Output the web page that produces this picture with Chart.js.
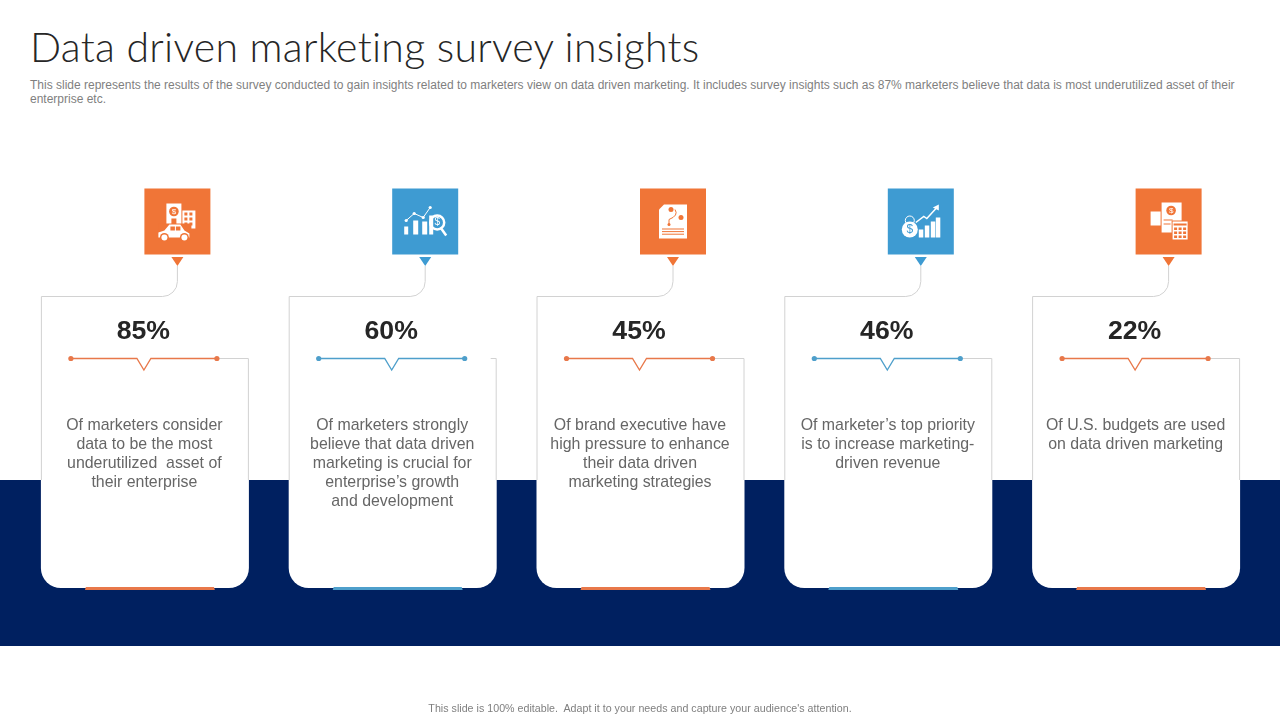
<!DOCTYPE html>
<html>
<head>
<meta charset="utf-8">
<title>Data driven marketing survey insights</title>
<script src="https://cdn.jsdelivr.net/npm/chart.js@4"></script>
<style>
  html, body { margin: 0; padding: 0; width: 1280px; height: 720px; background: #fff; overflow: hidden; font-family: "Liberation Sans", Arial, sans-serif; }
  #grafica { position: absolute; left: 0; top: 0; }
  h1 { position: absolute; left: 30px; top: 23px; margin: 0; font: 300 41px/48px Lato, sans-serif; letter-spacing: 0.25px; color: #262626; white-space: nowrap; }
  #sub { position: absolute; left: 30px; top: 78px; margin: 0; font-size: 12px; line-height: 14px; color: #7f7f7f; white-space: nowrap; }
  #pie { position: absolute; left: 0; width: 1280px; top: 702px; margin: 0; text-align: center; font-size: 10.67px; line-height: 13px; letter-spacing: 0.02px; color: #7f7f7f; }
</style>
</head>
<body>
<h1>Data driven marketing survey insights</h1>
<p id="sub">This slide represents the results of the survey conducted to gain insights related to marketers view on data driven marketing. It includes survey insights such as 87% marketers believe that data is most underutilized asset of their<br>enterprise etc.</p>
<canvas id="grafica" width="1280" height="720"></canvas>
<p id="pie">This slide is 100% editable.&nbsp; Adapt it to your needs and capture your audience's attention.</p>
<script>
const descripciones = [
  ['Of marketers consider', 'data to be the most', 'underutilized  asset of', 'their enterprise'],
  ['Of marketers strongly', 'believe that data driven', 'marketing is crucial for', 'enterprise\u2019s growth', 'and development'],
  ['Of brand executive have', 'high pressure to enhance', 'their data driven', 'marketing strategies'],
  ['Of marketer\u2019s top priority', 'is to increase marketing-', 'driven revenue'],
  ['Of U.S. budgets are used', 'on data driven marketing']
];
const porcentajes = [85, 60, 45, 46, 22];
const acentos = ['#F07537', '#3E9BD2', '#F07537', '#3E9BD2', '#F07537'];
const lineasAcento = ['#E8784A', '#4E9FCB', '#E8784A', '#4E9FCB', '#E8784A'];

const NAVY = '#002060';
const GRIS = '#d2d2d2';

function signoDolar(c, x, y, px, col) {
  c.fillStyle = col;
  c.font = px + 'px "Liberation Sans"';
  c.textAlign = 'center';
  c.textBaseline = 'middle';
  c.fillText('$', x, y);
}

// Iconos: dibujados alrededor del centro del cuadro
function iconoEdificio(c, x, y, col) {
  c.fillStyle = '#fff';
  c.fillRect(x - 11, y - 18, 15, 24);
  c.fillRect(x + 5, y - 11, 13, 18);
  c.fillStyle = col;
  c.beginPath(); c.arc(x - 3.5, y - 10, 4.8, 0, Math.PI * 2); c.fill();
  signoDolar(c, x - 3.5, y - 9.7, 8, '#fff');
  c.fillStyle = col;
  c.fillRect(x - 6, y - 3, 5, 8);
  for (let f = 0; f < 3; f++) {
    for (let k = 0; k < 2; k++) c.fillRect(x + 7 + k * 5, y - 9 + f * 5, 3, 3);
  }
  c.fillStyle = col;
  c.fillRect(x - 19, y + 2, 33, 16);
  c.fillStyle = '#fff';
  c.beginPath();
  c.moveTo(x - 19, y + 16);
  c.lineTo(x - 19, y + 11);
  c.lineTo(x - 13, y + 9);
  c.lineTo(x - 8, y + 3);
  c.lineTo(x + 3, y + 3);
  c.lineTo(x + 7, y + 9);
  c.lineTo(x + 12, y + 12);
  c.lineTo(x + 12, y + 16);
  c.closePath();
  c.fill();
  c.fillStyle = col;
  c.fillRect(x - 7, y + 5, 4.5, 4);
  c.fillRect(x - 1.5, y + 5, 4.5, 4);
  [-13, 7].forEach(d => {
    c.fillStyle = col;
    c.beginPath(); c.arc(x + d, y + 16, 4.5, 0, Math.PI * 2); c.fill();
    c.fillStyle = '#fff';
    c.beginPath(); c.arc(x + d, y + 16, 3, 0, Math.PI * 2); c.fill();
  });
}

function iconoLupa(c, x, y, col) {
  c.fillStyle = '#fff';
  c.strokeStyle = '#fff';
  c.fillRect(x - 21, y + 5, 4, 8);
  c.fillRect(x - 12, y - 1, 5, 14);
  c.fillRect(x - 3, y, 5, 13);
  c.lineWidth = 1;
  c.beginPath();
  c.moveTo(x - 19, y - 1);
  c.lineTo(x - 11, y - 8);
  c.lineTo(x - 2, y - 4);
  c.lineTo(x + 5, y - 14);
  c.stroke();
  [[-19, -1], [-11, -8], [-2, -4], [5, -14]].forEach(p => {
    c.beginPath(); c.arc(x + p[0], y + p[1], 1.6, 0, Math.PI * 2); c.fill();
  });
  c.fillRect(x + 4, y - 6, 4, 19);
  c.lineWidth = 2.5;
  c.beginPath(); c.arc(x + 12, y + 1, 7, 0, Math.PI * 2); c.stroke();
  c.beginPath(); c.moveTo(x + 16, y + 7); c.lineTo(x + 21, y + 14); c.stroke();
  signoDolar(c, x + 12, y + 1, 10, '#fff');
}

function iconoDocumento(c, x, y, col) {
  c.fillStyle = '#fff';
  c.beginPath();
  c.moveTo(x - 9, y - 17);
  c.lineTo(x + 14, y - 17);
  c.lineTo(x + 14, y + 17);
  c.lineTo(x - 14, y + 17);
  c.lineTo(x - 14, y - 12);
  c.closePath();
  c.fill();
  c.fillStyle = col;
  c.strokeStyle = col;
  c.lineWidth = 1;
  c.beginPath(); c.arc(x - 2, y - 12, 2.5, 0, Math.PI * 2); c.fill();
  c.beginPath(); c.arc(x + 8, y - 4, 2.5, 0, Math.PI * 2); c.fill();
  c.beginPath(); c.arc(x - 4, y + 3, 1.5, 0, Math.PI * 2); c.fill();
  c.beginPath(); c.moveTo(x + 2, y - 12); c.quadraticCurveTo(x + 6, y - 6, x - 4, y - 2); c.lineTo(x - 4, y + 3); c.stroke();
  for (let f = 0; f < 3; f++) {
    c.fillRect(x - 11, y + 7 + f * 2.6, 22, 1);
  }
}

function iconoMoneda(c, x, y, col) {
  c.fillStyle = '#fff';
  c.strokeStyle = '#fff';
  [[-2, 8], [4, 12], [10, 16], [15, 20]].forEach(b => {
    c.fillRect(x + b[0], y + 16 - b[1], 4.5, b[1]);
  });
  c.lineWidth = 1.5;
  c.beginPath();
  c.moveTo(x - 5, y + 1);
  c.lineTo(x + 3, y - 5);
  c.lineTo(x + 6, y - 3);
  c.lineTo(x + 17, y - 15);
  c.stroke();
  c.beginPath();
  c.moveTo(x + 18, y - 17);
  c.lineTo(x + 18, y - 11);
  c.lineTo(x + 12, y - 14);
  c.closePath();
  c.fill();
  c.lineWidth = 1;
  c.beginPath(); c.arc(x - 11, y - 1, 4.5, 0, Math.PI * 2); c.stroke();
  c.beginPath(); c.arc(x - 11, y + 8, 8, 0, Math.PI * 2); c.fill();
  signoDolar(c, x - 11, y + 8.5, 12, col);
}

function iconoCalculadora(c, x, y, col) {
  c.fillStyle = '#fff';
  c.fillRect(x - 18, y - 10, 10, 14);
  c.fillRect(x - 7, y - 19, 20, 30);
  c.fillStyle = col;
  c.beginPath(); c.arc(x + 2.5, y - 11, 4.8, 0, Math.PI * 2); c.fill();
  signoDolar(c, x + 2.5, y - 10.7, 8, '#fff');
  c.fillStyle = col;
  c.fillRect(x - 5, y - 2, 9, 1);
  c.fillRect(x - 5, y + 2, 7, 1);
  c.fillRect(x + 3, y - 1, 17, 20);
  c.fillStyle = '#fff';
  c.fillRect(x + 4, y, 15, 18);
  c.fillStyle = col;
  c.fillRect(x + 5, y + 2, 13, 2);
  for (let f = 0; f < 3; f++) {
    for (let k = 0; k < 3; k++) c.fillRect(x + 5.5 + k * 4.5, y + 6 + f * 4, 3, 2.5);
  }
}

const iconos = [iconoEdificio, iconoLupa, iconoDocumento, iconoMoneda, iconoCalculadora];

function dibujarTarjeta(c, cx, i) {
  const izq = cx - 104, der = cx + 104;
  const arriba = 296.5, repisa = 358.5, abajo = 588, r = 20;
  const xIcono = cx + 32.5;

  // relleno blanco de la tarjeta
  c.fillStyle = '#fff';
  c.beginPath();
  c.moveTo(izq, repisa);
  c.lineTo(der, repisa);
  c.lineTo(der, abajo - r);
  c.arcTo(der, abajo, der - r, abajo, r);
  c.lineTo(izq + r, abajo);
  c.arcTo(izq, abajo, izq, abajo - r, r);
  c.closePath();
  c.fill();

  // borde gris solo sobre el fondo blanco, sobre el azul casi no se nota
  c.strokeStyle = GRIS;
  c.lineWidth = 1;
  c.beginPath();
  c.moveTo(xIcono, 266);
  c.lineTo(xIcono, arriba - 15);
  c.arcTo(xIcono, arriba, xIcono - 15, arriba, 15);
  c.lineTo(izq + 0.5, arriba);
  c.lineTo(izq + 0.5, 480);
  c.moveTo(der - 0.5, 480);
  c.lineTo(der - 0.5, repisa);
  c.lineTo(i === 1 ? der - 6 : cx + 72, repisa);
  c.stroke();

  // cuadro del icono con su triangulo
  const col = acentos[i];
  c.fillStyle = col;
  c.fillRect(xIcono - 33, 188.5, 66, 66);
  c.beginPath();
  c.moveTo(xIcono - 6, 257);
  c.lineTo(xIcono + 6, 257);
  c.lineTo(xIcono, 266);
  c.closePath();
  c.fill();
  c.save();
  iconos[i](c, xIcono, 221.5, col);
  c.restore();

  // linea de acento con los puntos y la muesca
  const acento = lineasAcento[i];
  c.strokeStyle = acento;
  c.fillStyle = acento;
  c.lineWidth = 1.3;
  c.beginPath();
  c.moveTo(cx - 74, 358.5);
  c.lineTo(cx - 8, 358.5);
  c.lineTo(cx - 1, 370);
  c.lineTo(cx + 6, 358.5);
  c.lineTo(cx + 72, 358.5);
  c.stroke();
  [-74, 72].forEach(d => {
    c.beginPath(); c.arc(cx + d, 358.5, 2.6, 0, Math.PI * 2); c.fill();
  });

  // barra de abajo
  c.fillStyle = acento;
  c.beginPath();
  c.moveTo(cx - 60, 590);
  c.lineTo(cx - 59, 587);
  c.lineTo(cx + 69, 587);
  c.lineTo(cx + 70, 590);
  c.closePath();
  c.fill();
}

const pluginTarjetas = {
  id: 'tarjetas',
  beforeDraw(chart) {
    const c = chart.ctx;
    c.save();
    c.fillStyle = NAVY;
    c.fillRect(0, 480, chart.width, 166);
    c.restore();
  },
  afterDraw(chart) {
    const c = chart.ctx;
    const x = chart.scales.x;
    c.save();
    chart.data.labels.forEach((lineas, i) => {
      const cx = x.getPixelForValue(i);
      dibujarTarjeta(c, cx, i);

      c.textAlign = 'center';
      c.textBaseline = 'middle';
      c.fillStyle = '#262626';
      c.font = 'bold 26.67px "Liberation Sans"';
      c.fillText(chart.data.datasets[0].data[i] + '%', cx - 1.5, 332);

      c.fillStyle = '#666666';
      c.font = '15.9px "Liberation Sans"';
      lineas.forEach((t, n) => c.fillText(t, cx - 0.5, 426 + n * 19));
    });
    c.restore();
  }
};

window.addEventListener('DOMContentLoaded', () => {
  new Chart(document.getElementById('grafica'), {
    type: 'bar',
    data: {
      labels: descripciones,
      datasets: [{
        label: 'Marketers',
        data: porcentajes,
        backgroundColor: 'rgba(0,0,0,0)'
      }]
    },
    options: {
      responsive: false,
      animation: false,
      layout: { padding: { left: 21, right: 20, top: 0, bottom: 0 } },
      plugins: { legend: { display: false }, tooltip: { enabled: false } },
      scales: {
        x: { display: false },
        y: { display: false, min: 0, max: 100 }
      }
    },
    plugins: [pluginTarjetas]
  });
});
</script>
</body>
</html>
